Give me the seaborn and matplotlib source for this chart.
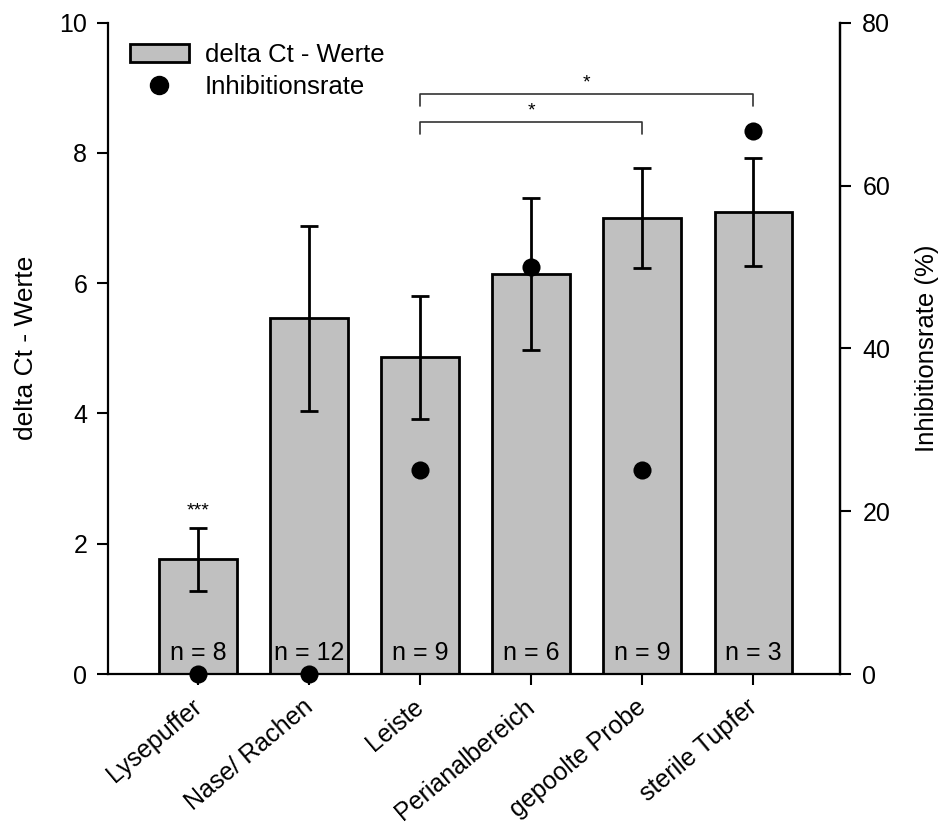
import numpy as np
import pandas as pd
import matplotlib
matplotlib.use("Agg")
import matplotlib.pyplot as plt
import matplotlib.transforms as mtransforms
from matplotlib.patches import Patch
from matplotlib.lines import Line2D
import seaborn as sns

categories = ["Lysepuffer", "Nase/ Rachen", "Leiste", "Perianalbereich", "gepoolte Probe", "sterile Tupfer"]
delta_ct = [1.76, 5.46, 4.86, 6.14, 7.00, 7.09]
delta_ct_err = [0.48, 1.42, 0.94, 1.17, 0.77, 0.83]
inhibition = [0, 0, 25, 50, 25, 66.7]
n_labels = ["n = 8", "n = 12", "n = 9", "n = 6", "n = 9", "n = 3"]
left_ticks = [0, 2, 4, 6, 8, 10]
right_ticks = [0, 20, 40, 60, 80]

sns.set_style("ticks", {"axes.edgecolor": "black", "text.color": "black",
                        "axes.labelcolor": "black", "xtick.color": "black", "ytick.color": "black"})
plt.rcParams["font.family"] = ["Liberation Sans", "DejaVu Sans"]

df = pd.DataFrame({"Probe": categories, "delta": delta_ct, "err": delta_ct_err, "inh": inhibition})
pos = np.arange(len(categories))

fig = plt.figure(figsize=(9.41, 8.25), dpi=100)
ax = fig.add_axes([0.1148, 0.183, 0.7779, 0.7895])

sns.barplot(data=df, x="Probe", y="delta", ax=ax, color="#c0c0c0", saturation=1,
            width=0.70, edgecolor="black", linewidth=2.0, errorbar=None, zorder=2)
ax.errorbar(pos, df["delta"], yerr=df["err"], fmt="none", ecolor="black",
            elinewidth=2.0, capsize=6.5, capthick=2.0, zorder=3)

ax.set_xlim(-0.81, 5.78)
ax.set_ylim(0, 10)
ax.set_yticks(left_ticks)
ax.set_xlabel("")
ax.set_ylabel("delta Ct - Werte", fontsize=19, color="black")
ax.yaxis.set_label_coords(-0.095, 0.5)
ax.tick_params(axis="both", direction="out", length=8, width=1.5, labelsize=18,
               colors="black")
ax.tick_params(axis="y", pad=7)
ax.tick_params(axis="x", pad=4)
ax.set_xticks(pos)
ax.set_xticklabels(categories, rotation=40, ha="right", va="center", rotation_mode="anchor", fontsize=18)
offset = mtransforms.ScaledTranslation(0.5 / 72, -9.5 / 72, fig.dpi_scale_trans)
for lab in ax.get_xticklabels():
    lab.set_transform(lab.get_transform() + offset)
for s in ["left", "bottom", "right"]:
    ax.spines[s].set_linewidth(1.6)
    ax.spines[s].set_color("black")
ax.spines["top"].set_visible(False)

# n labels
for i, t in enumerate(n_labels):
    ax.text(pos[i], 0.33, t, ha="center", va="center", fontsize=18, zorder=4, color="black")

# significance
ax.text(pos[0], 2.5, "***", ha="center", va="center", fontsize=14, color="black")
brackets = [(2, 5, 8.90, 8.72), (2, 4, 8.47, 8.29)]
for a, b, yt, yb in brackets:
    ax.plot([pos[a], pos[a], pos[b], pos[b]], [yb, yt, yt, yb], color="#333333", lw=1.2)
    ax.text((pos[a] + pos[b]) / 2, yt + 0.04, "*", ha="center", va="bottom", fontsize=14, color="black")

ax2 = ax.twinx()
sns.scatterplot(x=pos, y=df["inh"], ax=ax2, color="black", s=170, edgecolor="black",
                linewidth=0, zorder=5, clip_on=False, legend=False)
ax2.set_ylim(0, 80)
ax2.set_yticks(right_ticks)
ax2.set_ylabel("Inhibitionsrate (%)", fontsize=18.5, rotation=90, color="black")
ax2.yaxis.set_label_coords(1.102, 0.5)
ax2.tick_params(axis="y", direction="out", length=8, width=1.5, labelsize=18, pad=8, colors="black")
ax2.spines["top"].set_visible(False)
ax2.spines["right"].set_linewidth(1.6)
ax2.spines["right"].set_color("black")
ax2.spines["left"].set_visible(False)
ax2.spines["bottom"].set_visible(False)

handles = [Patch(facecolor="#c0c0c0", edgecolor="black", linewidth=2.0, label="delta Ct - Werte"),
           Line2D([], [], marker="o", color="black", linestyle="none", markersize=13, label="Inhibitionsrate")]
leg = ax2.legend(handles=handles, loc="upper left", bbox_to_anchor=(-0.002, 1.004), frameon=False,
                 fontsize=18.5, handlelength=2.3, handleheight=0.7, handletextpad=0.62, labelspacing=0.32,
                 labelcolor="black")

fig.savefig("out.png", dpi=100)
